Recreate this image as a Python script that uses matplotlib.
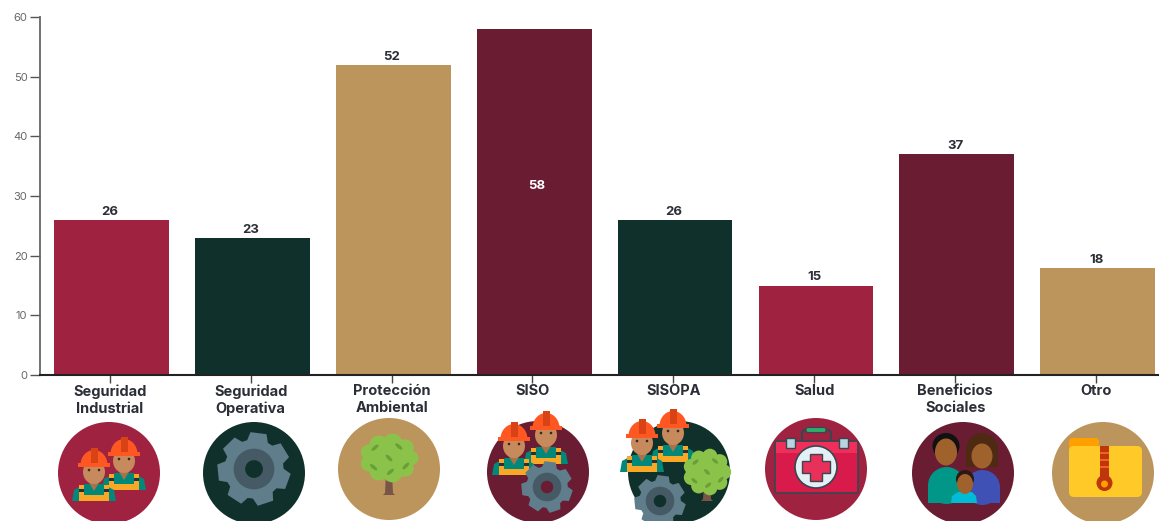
import numpy as np
import matplotlib
matplotlib.use("Agg")
import matplotlib.pyplot as plt
from matplotlib.patches import Circle, Ellipse, Rectangle, Polygon, FancyBboxPatch

categorias = ["Seguridad\nIndustrial", "Seguridad\nOperativa", "Protección\nAmbiental", "SISO",
              "SISOPA", "Salud", "Beneficios\nSociales", "Otro"]
valores = [26, 23, 52, 58, 26, 15, 37, 18]

GUINDA = "#9F2241"
VINO = "#691C32"
VERDE = "#10312B"
ORO = "#BC955C"
colores = [GUINDA, VERDE, ORO, VINO, VERDE, GUINDA, VINO, ORO]
yticks = [0, 10, 20, 30, 40, 50, 60]

W, H = 1159, 521
plt.rcParams["font.family"] = ["Inter", "DejaVu Sans"]

fig = plt.figure(figsize=(W / 100, H / 100), dpi=100)
ax = fig.add_axes([40 / W, (H - 375) / H, (W - 40) / W, 358 / H])

x = np.arange(len(valores))
ax.bar(x, valores, width=0.815, color=colores)
ax.set_xlim(-0.507, 7.435)
ax.set_ylim(0, 60)

for i, v in enumerate(valores):
    if v == max(valores):
        # la etiqueta de la barra mas alta va dentro, en blanco
        ax.text(i + 0.02, 31.7, str(v), ha="center", va="center", color="white",
                fontsize=9.5, fontweight="bold")
    else:
        ax.text(i - 0.01, v + 0.35, str(v), ha="center", va="bottom", color="#2B2E36",
                fontsize=9.5, fontweight="bold")

ax.set_xticks(x - 0.012)
ax.set_xticklabels(categorias, fontsize=10.5, fontweight="bold", color="#2B2E36", linespacing=1.3)
ax.set_yticks(yticks)
ax.tick_params(axis="y", length=7, width=1, color="#555555", labelsize=8, labelcolor="#666666", pad=2)
ax.tick_params(axis="x", length=6, width=1, color="#444444", pad=0.5)
for s in ["top", "right"]:
    ax.spines[s].set_visible(False)
ax.spines["left"].set_color("#666666")
ax.spines["left"].set_linewidth(1.3)
ax.spines["bottom"].set_color("#222222")
ax.spines["bottom"].set_linewidth(1.5)

# iconos, en pixeles de la imagen
ic = fig.add_axes([0, 0, 1, 1], zorder=5)
ic.set_xlim(0, W)
ic.set_ylim(H, 0)
ic.axis("off")
ic.patch.set_alpha(0)


def worker(cx, top):
    ic.add_patch(Polygon([(cx - 22, top + 53), (cx - 20, top + 42), (cx - 9, top + 36), (cx + 9, top + 36),
                          (cx + 20, top + 42), (cx + 22, top + 53)], color="#00897B", lw=0))
    ic.add_patch(Rectangle((cx - 15, top + 47), 30, 6, color="#F9A825", lw=0))
    ic.add_patch(Rectangle((cx - 15, top + 37), 5, 11, color="#F9A825", lw=0))
    ic.add_patch(Rectangle((cx + 10, top + 37), 5, 11, color="#F9A825", lw=0))
    ic.add_patch(Rectangle((cx - 15, top + 41), 5, 3, color="#263238", lw=0))
    ic.add_patch(Rectangle((cx + 10, top + 41), 5, 3, color="#263238", lw=0))
    ic.add_patch(Polygon([(cx - 6, top + 33), (cx + 6, top + 33), (cx, top + 43)], color="#A8734A", lw=0))
    ic.add_patch(Ellipse((cx, top + 24), 22, 24, color="#C68A5C", lw=0))
    ic.add_patch(Circle((cx - 5, top + 22), 1.3, color="#3E2723", lw=0))
    ic.add_patch(Circle((cx + 5, top + 22), 1.3, color="#3E2723", lw=0))
    t = np.linspace(np.pi, 2 * np.pi, 30)
    ic.add_patch(Polygon(np.c_[cx + 13.5 * np.cos(t), top + 17 + 15 * np.sin(t)], color="#FF5722", lw=0))
    ic.add_patch(Rectangle((cx - 16, top + 15), 32, 4, color="#FF5722", lw=0))
    ic.add_patch(Rectangle((cx - 3.5, top), 7, 15, color="#D84315", lw=0))


def gear(cx, cy, r, fondo):
    n = 7
    pts = []
    for k in range(n):
        a = 2 * np.pi * k / n + 0.35
        for da, rr in [(-0.36, 0.8), (-0.22, 1.0), (0.22, 1.0), (0.36, 0.8)]:
            pts.append((cx + r * rr * np.cos(a + da), cy + r * rr * np.sin(a + da)))
    ic.add_patch(Polygon(pts, color="#607D8B", lw=0))
    ic.add_patch(Circle((cx, cy), r * 0.55, color="#455A64", lw=0))
    ic.add_patch(Circle((cx, cy), r * 0.24, color=fondo, lw=0))


def tree(cx, cy, rx, ry, base):
    ic.add_patch(Polygon([(cx - 3, cy + ry * 0.6), (cx + 3, cy + ry * 0.6), (cx + 4, base - 2), (cx + 6, base),
                          (cx - 6, base), (cx - 4, base - 2)], color="#795548", lw=0))
    for k in range(9):
        a = 2 * np.pi * k / 9
        ic.add_patch(Ellipse((cx + rx * 0.72 * np.cos(a), cy + ry * 0.72 * np.sin(a)), rx * 0.66, ry * 0.7,
                             color="#8BC34A", lw=0))
    ic.add_patch(Ellipse((cx, cy), rx * 1.65, ry * 1.65, color="#8BC34A", lw=0))
    for dx, dy, ang in [(-0.5, -0.45, -40), (0.35, -0.5, 40), (0, 0, 45), (0.6, 0.35, -45), (-0.55, 0.4, 40), (0.05, 0.6, -40)]:
        ic.add_patch(Ellipse((cx + rx * dx, cy + ry * dy), rx * 0.32, ry * 0.15, angle=ang, color="#689F38", lw=0))


def persona(x0, ancho, y0, y1, color):
    # hombros redondos, base recta
    ic.add_patch(Ellipse((x0 + ancho / 2, y0 + ancho / 2), ancho, ancho, color=color, lw=0))
    ic.add_patch(Rectangle((x0, y0 + ancho / 2), ancho, y1 - y0 - ancho / 2, color=color, lw=0))


# circulos de fondo: centro x, centro y
centros_x = [109, 254, 389, 538, 679, 816, 963, 1103]
centros_y = [473, 473, 469, 472, 472, 469, 473, 473]
for cx, cy, c in zip(centros_x, centros_y, colores):
    ic.add_patch(Circle((cx, cy), 51, color=c, lw=0))

# Seguridad Industrial
worker(124, 437)
worker(94, 448)

# Seguridad Operativa
gear(254, 469, 37, VERDE)

# Proteccion Ambiental
tree(389, 458, 28, 23, 495)

# SISO
worker(546, 411)
worker(514, 422)
gear(547, 487, 26, VINO)

# SISOPA
worker(673, 409)
worker(642, 419)
gear(660, 501, 26, VERDE)
tree(707, 472, 23, 22, 501)

# Salud
ic.add_patch(FancyBboxPatch((802, 430), 29, 15, boxstyle="round,pad=0,rounding_size=3", fc="none", ec="#37474F", lw=1.5))
ic.add_patch(FancyBboxPatch((806, 427.5), 20, 5, boxstyle="round,pad=0,rounding_size=2", fc="#2EAD6B", ec="#37474F", lw=0.8))
ic.add_patch(FancyBboxPatch((775, 441), 83, 52, boxstyle="round,pad=0,rounding_size=2", fc="#D81B4A", ec="#37474F", lw=1.2))
ic.add_patch(Rectangle((776, 442), 81, 11, color="#EF2F59", lw=0))
for lx in [790, 843]:
    ic.add_patch(Rectangle((lx - 4.5, 438), 9, 10, fc="#B9D3E0", ec="#37474F", lw=1))
ic.add_patch(Circle((816, 467), 21, fc="#E3F0F5", ec="#37474F", lw=1.2))
ic.add_patch(Polygon([(810, 454), (822, 454), (822, 461), (830, 461), (830, 473), (822, 473), (822, 481),
                      (810, 481), (810, 473), (802, 473), (802, 461), (810, 461)], fc="#E8305A", ec="#37474F", lw=1))

# Beneficios Sociales
ic.add_patch(Ellipse((982, 450), 32, 34, color="#4E2A12", lw=0))
ic.add_patch(Rectangle((966, 450), 32, 17, color="#4E2A12", lw=0))
persona(965, 35, 470, 503, "#3F51B5")
ic.add_patch(Ellipse((982, 456), 21, 25, color="#A0622D", lw=0))
persona(928, 37, 467, 503, "#009688")
ic.add_patch(Ellipse((946, 446), 27, 26, color="#111111", lw=0))
ic.add_patch(Ellipse((946, 452), 22, 27, color="#A0622D", lw=0))
ic.add_patch(Polygon([(951, 503), (952, 496), (958, 492), (972, 492), (976, 496), (977, 503)], color="#00BCD4", lw=0))
ic.add_patch(Ellipse((965, 479), 18, 18, color="#2A1A12", lw=0))
ic.add_patch(Ellipse((965, 484), 16, 20, color="#A0622D", lw=0))

# Otro
ic.add_patch(FancyBboxPatch((1069, 438), 30, 16, boxstyle="round,pad=0,rounding_size=4", color="#FFA000", lw=0))
ic.add_patch(FancyBboxPatch((1069, 446), 73, 51, boxstyle="round,pad=0,rounding_size=5", color="#FFCA28", lw=0))
ic.add_patch(Rectangle((1100, 446), 9, 32, color="#BF360C", lw=0))
for zy in [452, 459, 466]:
    ic.add_patch(Rectangle((1100, zy), 9, 2, color="#F4611E", lw=0))
ic.add_patch(Circle((1104.5, 483), 8, color="#BF360C", lw=0))
ic.add_patch(Circle((1104.5, 484), 3.5, color="#FFA000", lw=0))

fig.savefig("out.png", dpi=100)
